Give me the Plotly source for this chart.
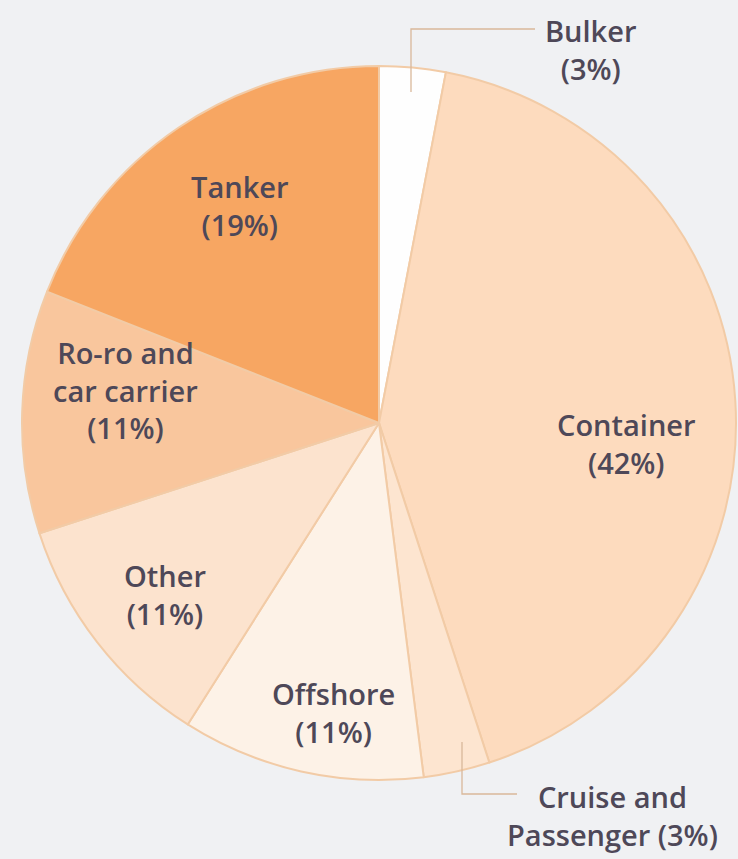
import plotly.graph_objects as go

# Fleet segment shares, clockwise from 12 o'clock
segments = ["Bulker", "Container", "Cruise and Passenger", "Offshore", "Other",
            "Ro-ro and car carrier", "Tanker"]
shares = [3, 42, 3, 11, 11, 11, 19]

# Label text as printed (line breaks per segment)
label_lines = [
    ["Bulker"],
    ["Container"],
    ["Cruise and", "Passenger"],
    ["Offshore"],
    ["Other"],
    ["Ro-ro and", "car carrier"],
    ["Tanker"],
]

slice_colors = ["#fefefe", "#fddbbe", "#fde5d0", "#fdf2e7", "#fce3ce", "#f9c69d", "#f7a662"]

W, H = 738, 859
CX, CY, R = 379, 423, 357          # pie centre and radius in pixels
TEXT_COLOR = "#4e4858"
FONT = "Open Sans"
FS = 29

def px_x(x):
    return x / W

def px_y(y):
    return 1 - y / H

fig = go.Figure(go.Pie(
    labels=segments,
    values=shares,
    sort=False,
    direction="clockwise",
    rotation=0,
    marker=dict(colors=slice_colors, line=dict(color="#f2cba6", width=2)),
    textinfo="none",
    hoverinfo="label+percent",
    domain=dict(x=[px_x(CX - R), min(1, px_x(CX + R))],
                y=[px_y(CY + R), px_y(CY - R)]),
))

# Label anchors (pixel centres) for each segment's text block
label_pos = {
    "Bulker": (590, 50),
    "Container": (626, 443),
    "Cruise and Passenger": (612, 815),
    "Offshore": (333, 712),
    "Other": (165, 594),
    "Ro-ro and car carrier": (125, 390),
    "Tanker": (239, 205),
}

annotations = []
for name, val, lines in zip(segments, shares, label_lines):
    if name == "Cruise and Passenger":
        text = f"{lines[0]}<br>{lines[1]} ({val}%)"
    else:
        text = "<br>".join(lines + [f"({val}%)"])
    x, y = label_pos[name]
    annotations.append(dict(
        x=px_x(x), y=px_y(y), xref="paper", yref="paper",
        text=text, showarrow=False, xanchor="center", yanchor="middle",
        align="center",
        font=dict(family=FONT, size=FS, color=TEXT_COLOR, weight=600),
    ))

# Elbow leader lines for the two thin slices
leader = dict(color="#d9b89a", width=1.3)
shapes = [
    dict(type="path", xref="paper", yref="paper",
         path=f"M {px_x(411)},{px_y(92)} L {px_x(411)},{px_y(29)} L {px_x(535)},{px_y(29)}",
         line=leader),
    dict(type="path", xref="paper", yref="paper",
         path=f"M {px_x(462)},{px_y(742)} L {px_x(462)},{px_y(794)} L {px_x(517)},{px_y(794)}",
         line=leader),
]

fig.update_layout(
    width=W, height=H,
    margin=dict(l=0, r=0, t=0, b=0),
    paper_bgcolor="#f0f1f3",
    plot_bgcolor="#f0f1f3",
    showlegend=False,
    annotations=annotations,
    shapes=shapes,
)

fig.write_html("out.html")
